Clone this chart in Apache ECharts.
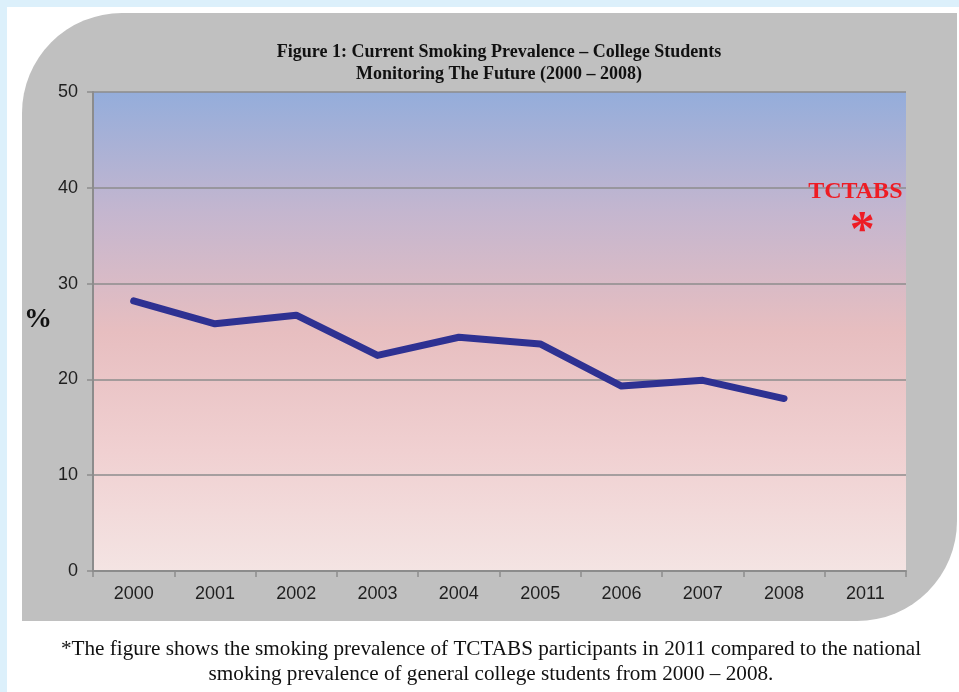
<!DOCTYPE html>
<html>
<head>
<meta charset="utf-8">
<script src="https://cdn.jsdelivr.net/npm/echarts@6/dist/echarts.min.js"></script>
<style>
html,body{margin:0;padding:0;background:#dcf0fb;}
#c{width:959px;height:692px;}
</style>
</head>
<body>
<div id="c"></div>
<script>
var categories = ['2000','2001','2002','2003','2004','2005','2006','2007','2008','2011'];
var nationalValues = [28.2, 25.8, 26.7, 22.5, 24.4, 23.7, 19.3, 19.9, 18.0, null];
var tctabsValues = [null, null, null, null, null, null, null, null, null, 36.4];
var yTicks = [0, 10, 20, 30, 40, 50];
var titleLines = ['Figure 1: Current Smoking Prevalence \u2013 College Students', 'Monitoring The Future (2000 \u2013 2008)'];
var captionLines = ['*The figure shows the smoking prevalence of TCTABS participants in 2011 compared to the national', 'smoking prevalence of general college students from 2000 \u2013 2008.'];

var chart = echarts.init(document.getElementById('c'), null, {renderer: 'canvas'});
chart.setOption({
  animation: false,
  backgroundColor: 'transparent',
  graphic: [
    {type: 'rect', z: -10, shape: {x: 7, y: 7, width: 952, height: 685}, style: {fill: '#ffffff'}},
    {type: 'rect', z: -9, shape: {x: 22, y: 13, width: 935, height: 608, r: [100, 0, 100, 0]}, style: {fill: '#c0c0c0'}},
    {type: 'text', x: 499, y: 41, style: {text: titleLines.join('\n'), font: 'bold 18px "Liberation Serif"', fill: '#111', textAlign: 'center', lineHeight: 22}},
    {type: 'text', x: 24, y: 306, style: {text: '%', font: 'bold 28px "Liberation Serif"', fill: '#111'}},
    {type: 'text', x: 491, y: 637, style: {text: captionLines.join('\n'), font: '21.2px "Liberation Serif"', fill: '#111', textAlign: 'center', lineHeight: 25}}
  ],
  grid: {
    left: 93, top: 92, right: 53, bottom: 121,
    show: true, borderWidth: 0,
    backgroundColor: new echarts.graphic.LinearGradient(0, 0, 0, 1, [
      {offset: 0, color: '#94addb'},
      {offset: 0.25, color: '#c4b6cf'},
      {offset: 0.5, color: '#e7bec0'},
      {offset: 0.75, color: '#f0d0d1'},
      {offset: 1, color: '#f4e4e3'}
    ])
  },
  xAxis: {
    type: 'category', data: categories, boundaryGap: true,
    axisLine: {show: true, lineStyle: {color: '#8c8c8c', width: 2}},
    axisTick: {show: true, length: 6, lineStyle: {color: '#8c8c8c', width: 1.5}},
    axisLabel: {color: '#1f1f1f', fontSize: 18, fontFamily: 'Liberation Sans', margin: 14}
  },
  yAxis: {
    type: 'value', min: 0, max: 50, interval: 10,
    axisLine: {show: true, lineStyle: {color: '#8c8c8c', width: 2}},
    axisTick: {show: true, length: 6, lineStyle: {color: '#8c8c8c', width: 1.5}},
    splitLine: {show: true, lineStyle: {color: '#8c8c8c', width: 1.5}},
    axisLabel: {color: '#1f1f1f', fontSize: 18, fontFamily: 'Liberation Sans', margin: 15,
      formatter: function (v) { return yTicks.indexOf(v) >= 0 ? String(v) : ''; }}
  },
  series: [
    {
      type: 'line', data: nationalValues, symbol: 'none', connectNulls: false,
      lineStyle: {color: '#2e3192', width: 7, cap: 'round', join: 'round'}
    },
    {
      type: 'scatter', data: tctabsValues, symbolSize: 2, itemStyle: {color: 'rgba(0,0,0,0)', opacity: 1},
      label: {
        show: true, position: 'inside', offset: [-10, -7], opacity: 1,
        formatter: '{t|TCTABS}\n{s|*}',
        rich: {
          t: {color: '#ee1c24', fontFamily: 'Liberation Serif', fontWeight: 'bold', fontSize: 24, lineHeight: 30, align: 'center', opacity: 1},
          s: {color: '#ee1c24', fontFamily: 'Liberation Serif', fontWeight: 'bold', fontSize: 50, lineHeight: 46, align: 'center', padding: [3, 0, 0, 14], opacity: 1}
        }
      }
    }
  ]
});
</script>
</body>
</html>
